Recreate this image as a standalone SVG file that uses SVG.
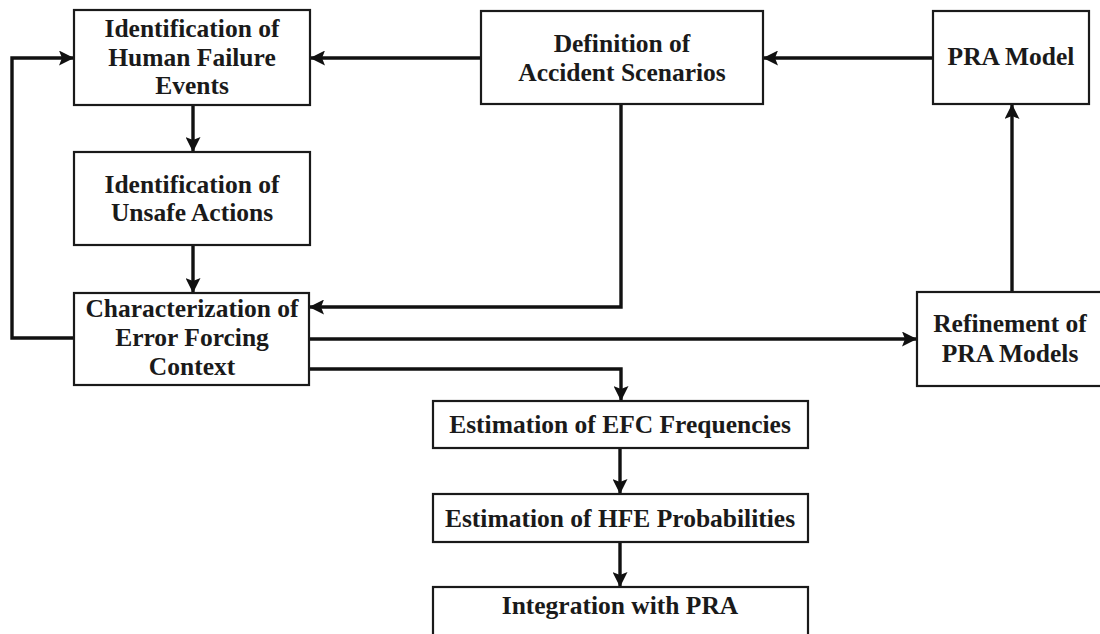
<svg xmlns="http://www.w3.org/2000/svg" width="1100" height="634" viewBox="0 0 1100 634">
  <style>
    .box { fill: #ffffff; stroke: #1a1a1a; stroke-width: 2.2; }
    .lbl { font-family: "Liberation Serif", "Times New Roman", serif; font-weight: bold; font-size: 25.5px; fill: #1a1a1a; text-anchor: middle; }
    .conn { fill: none; stroke: #111111; stroke-width: 3.4; stroke-linejoin: miter; }
  </style>
  <defs>
    <marker id="arrow" viewBox="0 0 15 15" refX="14" refY="7.5" markerWidth="15" markerHeight="15" markerUnits="userSpaceOnUse" orient="auto">
      <path d="M0,0 L15,7.5 L0,15 L3,7.5 z" fill="#111111"/>
    </marker>
  </defs>
  <rect width="1100" height="634" fill="#ffffff"/>

  <!-- connectors -->
  <g id="connectors">
    <path class="conn" d="M481,58 L311,58" marker-end="url(#arrow)"/>
    <path class="conn" d="M933,58 L764,58" marker-end="url(#arrow)"/>
    <path class="conn" d="M193,105 L193,151" marker-end="url(#arrow)"/>
    <path class="conn" d="M193,245 L193,292" marker-end="url(#arrow)"/>
    <path class="conn" d="M74,338 L12,338 L12,58 L73,58" marker-end="url(#arrow)"/>
    <path class="conn" d="M621,104 L621,307 L310,307" marker-end="url(#arrow)"/>
    <path class="conn" d="M309,339 L916,339" marker-end="url(#arrow)"/>
    <path class="conn" d="M309,369 L621,369 L621,400" marker-end="url(#arrow)"/>
    <path class="conn" d="M620,448 L620,493" marker-end="url(#arrow)"/>
    <path class="conn" d="M620,542 L620,586" marker-end="url(#arrow)"/>
    <path class="conn" d="M1012,292 L1012,105" marker-end="url(#arrow)"/>
  </g>

  <g id="hfe-identification">
    <rect class="box" x="74" y="10" width="236" height="95"/>
    <text class="lbl" x="192" y="37">Identification of</text>
    <text class="lbl" x="192" y="66">Human Failure</text>
    <text class="lbl" x="192" y="94">Events</text>
  </g>

  <g id="unsafe-actions">
    <rect class="box" x="74" y="152" width="236" height="93"/>
    <text class="lbl" x="192" y="193">Identification of</text>
    <text class="lbl" x="192" y="221">Unsafe Actions</text>
  </g>

  <g id="error-forcing-context">
    <rect class="box" x="74" y="293" width="235" height="92"/>
    <text class="lbl" x="192" y="317">Characterization of</text>
    <text class="lbl" x="192" y="346">Error Forcing</text>
    <text class="lbl" x="192" y="375">Context</text>
  </g>

  <g id="accident-scenarios">
    <rect class="box" x="481" y="11" width="282" height="93"/>
    <text class="lbl" x="622" y="52">Definition of</text>
    <text class="lbl" x="622" y="81">Accident Scenarios</text>
  </g>

  <g id="pra-model">
    <rect class="box" x="933" y="11" width="156" height="93"/>
    <text class="lbl" x="1011" y="65">PRA Model</text>
  </g>

  <g id="refinement">
    <rect class="box" x="917" y="292" width="200" height="94"/>
    <text class="lbl" x="1010" y="332">Refinement of</text>
    <text class="lbl" x="1010" y="362">PRA Models</text>
  </g>

  <g id="efc-frequencies">
    <rect class="box" x="433" y="401" width="375" height="47"/>
    <text class="lbl" x="620" y="433">Estimation of EFC Frequencies</text>
  </g>

  <g id="hfe-probabilities">
    <rect class="box" x="433" y="494" width="375" height="48"/>
    <text class="lbl" x="620" y="527">Estimation of HFE Probabilities</text>
  </g>

  <g id="integration">
    <rect class="box" x="433" y="587" width="375" height="60"/>
    <text class="lbl" x="620" y="614">Integration with PRA</text>
  </g>
</svg>
